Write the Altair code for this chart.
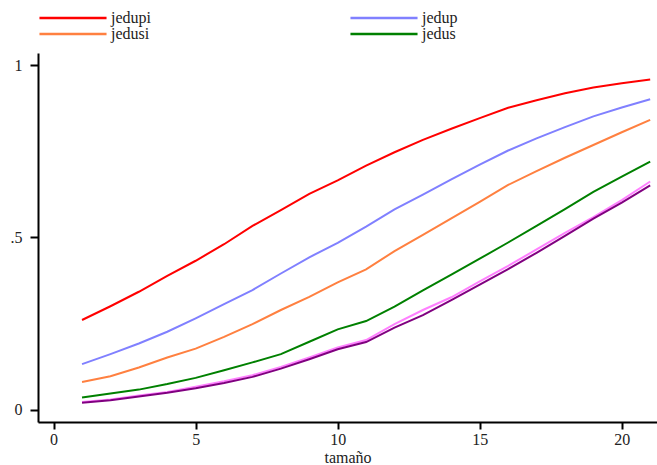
import altair as alt
import pandas as pd

x_vals = list(range(1, 22))
jedupi = [0.260, 0.300, 0.342, 0.388, 0.432, 0.480, 0.533, 0.579, 0.626, 0.665, 0.708,
          0.747, 0.783, 0.815, 0.846, 0.876, 0.898, 0.918, 0.935, 0.947, 0.958]
jedup = [0.132, 0.161, 0.192, 0.226, 0.265, 0.306, 0.347, 0.395, 0.442, 0.484, 0.531,
         0.581, 0.624, 0.668, 0.711, 0.752, 0.787, 0.820, 0.851, 0.877, 0.901]
jedusi = [0.080, 0.097, 0.122, 0.151, 0.177, 0.211, 0.248, 0.289, 0.327, 0.369, 0.407,
          0.460, 0.507, 0.555, 0.603, 0.652, 0.692, 0.731, 0.768, 0.805, 0.841]
jedus = [0.035, 0.047, 0.058, 0.074, 0.092, 0.114, 0.137, 0.161, 0.197, 0.233, 0.257,
         0.299, 0.346, 0.392, 0.438, 0.485, 0.533, 0.582, 0.632, 0.676, 0.720]
serie5 = [0.022, 0.029, 0.041, 0.051, 0.066, 0.082, 0.100, 0.124, 0.151, 0.180, 0.202,
          0.248, 0.289, 0.326, 0.372, 0.417, 0.465, 0.513, 0.559, 0.608, 0.662]
serie6 = [0.020, 0.027, 0.038, 0.049, 0.062, 0.077, 0.095, 0.119, 0.146, 0.175, 0.196,
          0.238, 0.274, 0.318, 0.363, 0.408, 0.455, 0.504, 0.554, 0.601, 0.651]

series_names = ["jedupi", "jedup", "jedusi", "jedus", "serie5", "serie6"]
series_vals = [jedupi, jedup, jedusi, jedus, serie5, serie6]
series_colors = ["#ff0000", "#8080ff", "#ff8040", "#008000", "#ff80ff", "#800080"]
# legend is filled column by column: first column jedupi / jedusi, second jedup / jedus
legend_names = ["jedupi", "jedusi", "jedup", "jedus"]

rows = []
for i, (name, vals) in enumerate(zip(series_names, series_vals)):
    for xv, yv in zip(x_vals, vals):
        rows.append({"tamaño": xv, "valor": yv, "serie": name, "orden": i})
df = pd.DataFrame(rows)

FONT = "Liberation Serif"

chart = alt.Chart(df).mark_line(strokeWidth=2, clip=True).encode(
    x=alt.X("tamaño:Q",
            scale=alt.Scale(domain=[-0.55, 21.24], nice=False, zero=False),
            axis=alt.Axis(values=[0, 5, 10, 15, 20], title="tamaño", grid=False,
                          labelFontSize=16, titleFontSize=16, titleFontWeight="normal",
                          labelFont=FONT, titleFont=FONT,
                          tickSize=7, tickWidth=2, domainWidth=2,
                          domainColor="black", tickColor="black",
                          labelColor="#222222", titleColor="#222222",
                          labelPadding=2, titlePadding=2)),
    y=alt.Y("valor:Q",
            scale=alt.Scale(domain=[-0.036, 1.035], nice=False, zero=False),
            axis=alt.Axis(values=[0, 0.5, 1], title=None, grid=False,
                          labelExpr="datum.value == 0.5 ? '.5' : (datum.value == 1 ? '1' : '0')",
                          labelFontSize=16, labelFont=FONT,
                          tickSize=8, tickWidth=2, domainWidth=2,
                          domainColor="black", tickColor="black",
                          labelColor="#222222", labelPadding=8)),
    color=alt.Color("serie:N",
                    scale=alt.Scale(domain=series_names, range=series_colors),
                    legend=alt.Legend(values=legend_names, title=None, columns=2,
                                      orient="none", legendX=27, legendY=-43,
                                      symbolType="M-6,0H6", symbolSize=125,
                                      symbolStrokeWidth=2.5, labelFont=FONT,
                                      labelFontSize=16, labelColor="#222222",
                                      labelOffset=30, columnPadding=194,
                                      rowPadding=0, padding=0)),
    order=alt.Order("orden:Q"),
    detail="serie:N",
).properties(
    width=619, height=369,
    padding={"left": 38, "top": 53, "right": 0, "bottom": 43},
    autosize=alt.AutoSizeParams(type="none"),
).configure(background="white").configure_view(stroke=None)

chart.save("out.html", embed_options={"renderer": "svg", "actions": False})
